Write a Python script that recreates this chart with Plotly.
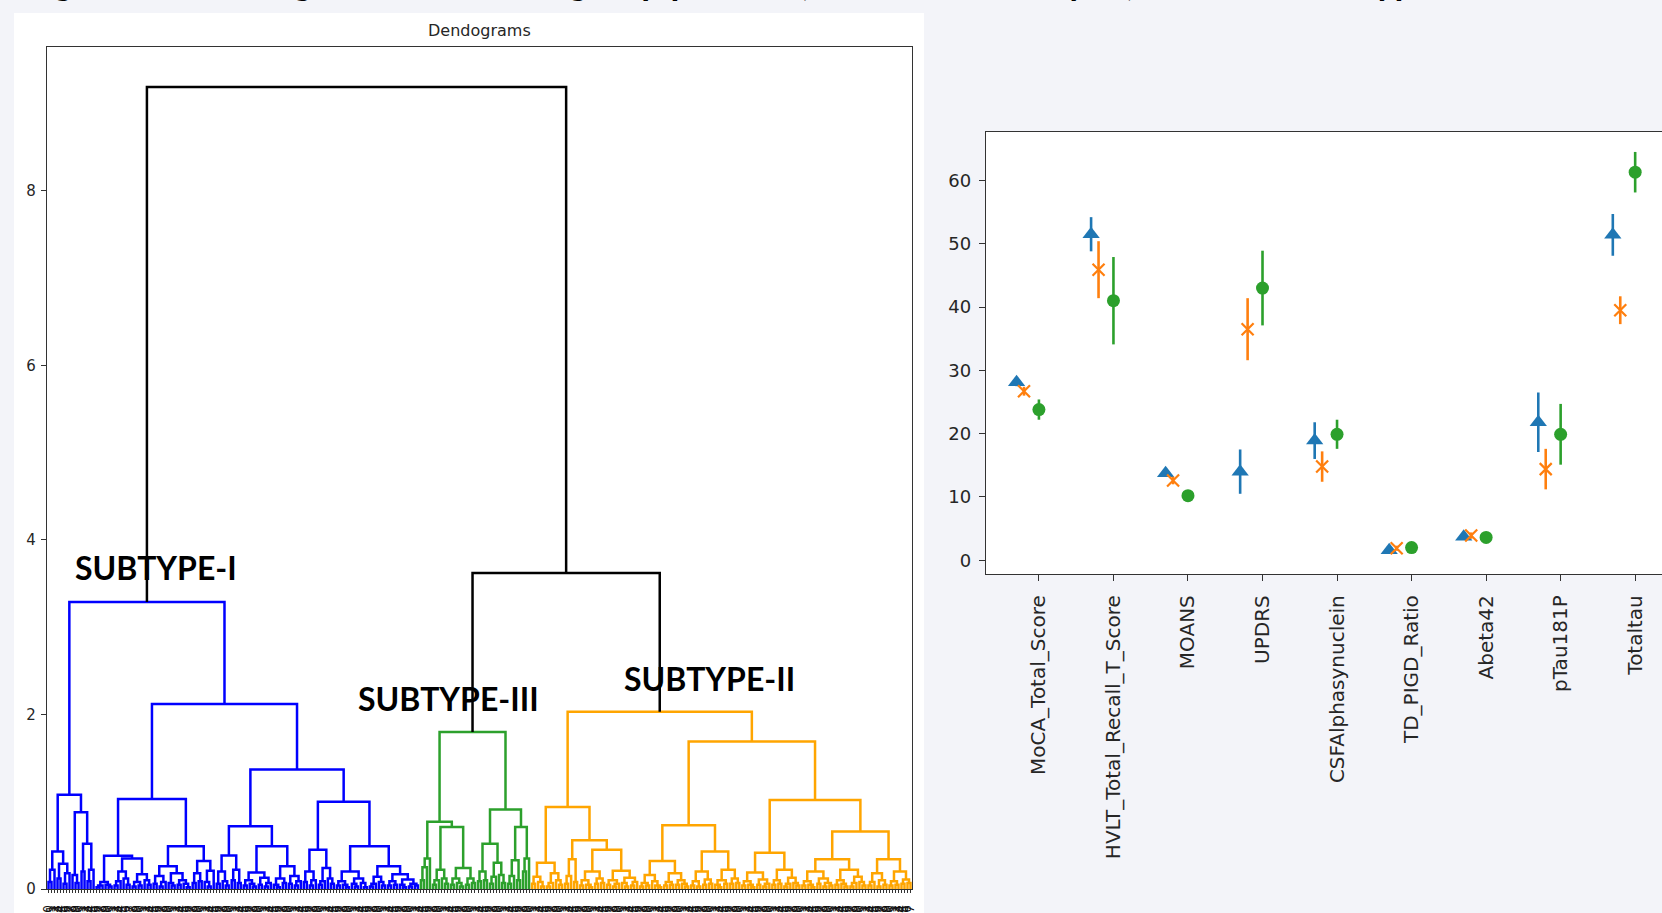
import plotly.graph_objects as go

# ------------------------------------------------------------------
# DATA
# ------------------------------------------------------------------
# Dendrogram (hierarchical clustering) written as nested merges:
# "(height left right)" is a merge, "." is a single patient (leaf).
SUBTYPE_I_TREE = """
(3.29
  (1.08
    (.43 (.22 (.08 . .) .) (.29 (.12 . .) (.18 (.06 . .) .)))
    (.88 (.16 . (.07 . .)) (.52 (.2 . .) (.22 (.09 . .) .))))
  (2.12
    (1.03
      (.38
        (.08 (.04 (.02 . .) .) (.05 . (.03 . .)))
        (.35 (.2 (.09 (.04 . .) .) (.12 . (.05 . .)))
             (.17 (.08 (.03 . .) (.04 . .)) (.1 . (.05 . .)))))
      (.49
        (.26 (.15 (.06 . .) (.08 (.03 . .) .))
             (.18 (.07 . (.04 . .)) (.1 (.05 . .) (.06 . (.02 . .)))))
        (.32 (.18 (.07 . .) (.09 . .)) (.21 (.08 . (.03 . .)) .))))
    (1.37
      (.72
        (.385 (.2 (.06 . .) (.09 . (.04 . .))) (.22 (.1 . .) (.07 . .)))
        (.49 (.19 (.1 (.04 . .) (.06 . (.03 . .))) (.13 (.05 . .) (.07 (.03 . .) .)))
             (.26 (.12 (.05 . (.02 . .)) (.07 . .)) (.15 (.06 . .) (.09 (.04 . .) .)))))
      (1.0
        (.45 (.2 (.08 . .) (.1 (.04 . .) .)) (.24 (.09 (.05 . .) .) (.12 . (.06 . .))))
        (.49
          (.2 (.09 (.04 . .) (.05 . (.02 . .))) (.12 (.06 . (.03 . .)) (.07 . (.02 . .))))
          (.26 (.14 (.06 (.03 . .) .) (.08 . (.04 . .)))
               (.17 (.09 (.04 . .) (.05 . .))
                    (.11 (.05 . (.02 . .)) (.06 (.03 . .) (.04 . .))))))))))
"""

SUBTYPE_III_TREE = """
(1.80
  (.77
    (.35 (.25 (.1 . .) .) .)
    (.71 (.22 (.1 (.05 . .) .) (.12 . (.06 . .)))
         (.24 (.12 (.05 . .) (.07 . (.03 . .))) (.12 (.05 . .) (.07 . .)))))
  (.91
    (.52 (.2 (.09 . .) (.1 . .)) (.3 (.14 (.06 . .) .) (.16 . (.07 . .))))
    (.71 (.33 (.15 (.06 . .) .) (.1 . .)) (.35 (.2 . .) .))))
"""

SUBTYPE_II_TREE = """
(2.03
  (.94
    (.30 (.14 (.06 . .) (.08 . (.03 . .))) (.18 (.07 (.03 . .) .) (.1 . (.05 . .))))
    (.56
      (.34 (.15 (.06 . .) .) (.08 . .))
      (.45 (.2 (.1 (.04 . .) (.05 . (.02 . .))) (.12 (.06 . .) (.07 . .)))
           (.21 (.1 (.05 . .) (.06 (.03 . .) .)) (.13 (.07 . (.03 . .)) (.08 (.04 . .) .))))))
  (1.69
    (.73
      (.32 (.16 (.07 (.03 . .) (.04 . .)) (.09 . (.04 . (.02 . .))))
           (.18 (.08 (.04 . .) (.05 . .)) (.1 (.05 . .) (.06 . (.03 . .)))))
      (.43 (.2 (.09 (.04 . .) (.03 . .)) (.11 (.05 . .) (.06 . .)))
           (.22 (.1 (.05 . (.02 . .)) (.06 . .)) (.12 (.06 . .) (.07 . .)))))
    (1.02
      (.415 (.19 (.09 (.04 . .) (.05 . (.02 . .))) (.11 (.05 . .) (.06 (.03 . .) .)))
            (.22 (.1 (.05 . .) (.06 . .)) (.13 (.06 (.03 . .) .) (.07 . (.04 . .)))))
      (.66
        (.34 (.2 (.09 (.04 . .) (.05 . (.02 . .))) (.12 (.06 . .) (.07 (.03 . .) (.04 . .))))
             (.22 (.1 (.05 . .) (.06 . (.03 . .))) (.14 (.07 (.03 . .) .) (.08 . (.04 . .)))))
        (.34 (.18 (.08 (.04 . .) .) (.1 (.03 . .) (.05 . .)))
             (.2 (.09 (.04 . .) (.05 . .)) (.11 (.06 . .) (.07 . .))))))))
"""

II_III_MERGE_HEIGHT = 3.62
ROOT_MERGE_HEIGHT = 9.19

SUBTYPE_LABELS = ["SUBTYPE-I", "SUBTYPE-III", "SUBTYPE-II"]

FEATURES = ["MoCA_Total_Score", "HVLT_Total_Recall_T_Score", "MOANS", "UPDRS",
            "CSFAlphasynuclein", "TD_PIGD_Ratio", "Abeta42", "pTau181P", "Totaltau"]

BLUE_MEAN = [28.1, 51.5, 13.75, 14.0, 18.9, 1.6, 3.7, 21.8, 51.4]
BLUE_ERR = [0.6, 2.7, 0.6, 3.5, 2.9, 0.6, 0.5, 4.7, 3.3]
ORANGE_MEAN = [26.7, 45.9, 12.6, 36.5, 14.8, 1.9, 3.9, 14.4, 39.5]
ORANGE_ERR = [0.7, 4.5, 0.6, 4.9, 2.4, 0.4, 0.5, 3.2, 2.2]
GREEN_MEAN = [23.8, 41.0, 10.2, 43.0, 19.9, 2.0, 3.6, 19.9, 61.3]
GREEN_ERR = [1.6, 6.9, 0.6, 5.9, 2.3, 0.5, 0.5, 4.8, 3.2]

HEADER = "Figure 2: Dendrogram and the subgroup profiles (hierarchical analysis) of the PD subtypes"

# ------------------------------------------------------------------
# helpers
# ------------------------------------------------------------------
W, H = 1662, 913


def parse_tree(text):
    toks = text.replace("(", " ( ").replace(")", " ) ").split()
    pos = [0]

    def node():
        t = toks[pos[0]]
        pos[0] += 1
        if t == ".":
            return None
        h = float(toks[pos[0]])
        pos[0] += 1
        a = node()
        b = node()
        pos[0] += 1  # ")"
        return (h, a, b)

    return node()


C_BLUE, C_GREEN, C_ORANGE, C_BLACK = "#0000ff", "#2ca02c", "#ffa500", "#000000"
segments = {c: ([], []) for c in (C_BLUE, C_GREEN, C_ORANGE, C_BLACK)}
leaf_counter = [0]


def place(node, color):
    if node is None:
        x = 5 + 10 * leaf_counter[0]
        leaf_counter[0] += 1
        return x, 0.0
    h, a, b = node
    xa, ha = place(a, color)
    xb, hb = place(b, color)
    xs, ys = segments[color]
    xs += [xa, xa, xb, xb, None]
    ys += [ha, h, h, hb, None]
    return (xa + xb) / 2, h


x1, h1 = place(parse_tree(SUBTYPE_I_TREE), C_BLUE)
x3, h3 = place(parse_tree(SUBTYPE_III_TREE), C_GREEN)
x2, h2 = place(parse_tree(SUBTYPE_II_TREE), C_ORANGE)
xs, ys = segments[C_BLACK]
xs += [x3, x3, x2, x2, None]
ys += [h3, II_III_MERGE_HEIGHT, II_III_MERGE_HEIGHT, h2, None]
xm = (x3 + x2) / 2
xs += [x1, x1, xm, xm, None]
ys += [h1, ROOT_MERGE_HEIGHT, ROOT_MERGE_HEIGHT, II_III_MERGE_HEIGHT, None]

N_LEAVES = leaf_counter[0]
LEAF_LABELS = [str(i) for i in range(N_LEAVES)]
X_MAX = 10 * N_LEAVES


def px_x(p):
    return p / W


def px_y(p):
    return 1 - p / H


fig = go.Figure()

for color, (lx, ly) in segments.items():
    fig.add_trace(go.Scatter(x=lx, y=ly, mode="lines", line=dict(color=color, width=2.5),
                             hoverinfo="skip", showlegend=False, xaxis="x", yaxis="y"))

series = [
    (BLUE_MEAN, BLUE_ERR, "#1f77b4", -0.3, dict(symbol="triangle-up", size=15)),
    (ORANGE_MEAN, ORANGE_ERR, "#ff7f0e", -0.2,
     dict(symbol="x-thin", size=12, line=dict(width=2.2, color="#ff7f0e"))),
    (GREEN_MEAN, GREEN_ERR, "#2ca02c", 0.0, dict(symbol="circle", size=13)),
]
for mean, err, col, off, mk in series:
    mk = dict(mk)
    mk["color"] = col
    fig.add_trace(go.Scatter(
        x=[i + off for i in range(len(FEATURES))], y=mean, mode="markers",
        marker=mk,
        error_y=dict(type="data", array=err, color=col, thickness=2.6, width=0),
        showlegend=False, xaxis="x2", yaxis="y2"))

axis_font = dict(family="DejaVu Sans", color="#262626")

fig.update_layout(
    width=W, height=H,
    margin=dict(l=0, r=0, t=0, b=0, autoexpand=False),
    paper_bgcolor="#f3f4f9",
    plot_bgcolor="#ffffff",
    showlegend=False,
    xaxis=dict(domain=[px_x(47), px_x(912)], range=[0, X_MAX], showgrid=False, zeroline=False,
               showline=True, mirror=True, linecolor="#333333", linewidth=1.4,
               tickmode="array", tickvals=[5 + 10 * i for i in range(N_LEAVES)],
               ticktext=LEAF_LABELS, tickangle=-90, ticks="outside", ticklen=3,
               tickcolor="#333333", tickwidth=0.6, ticklabelstandoff=7,
               tickfont=dict(family="DejaVu Sans", size=12, color="#111111"),
               anchor="y", automargin=False),
    yaxis=dict(domain=[px_y(889), px_y(47)], range=[0, 1.05 * ROOT_MERGE_HEIGHT],
               showgrid=False, zeroline=False, showline=True, mirror=True,
               linecolor="#333333", linewidth=1.4, tickvals=[0, 2, 4, 6, 8],
               ticks="outside", ticklen=5, tickcolor="#333333", ticklabelstandoff=2,
               tickfont=dict(axis_font, size=15), anchor="x", automargin=False),
    xaxis2=dict(domain=[px_x(986), 1.0], range=[-0.71, 8.36], showgrid=False, zeroline=False,
                showline=True, mirror=True, linecolor="#333333", linewidth=1.4,
                tickmode="array", tickvals=list(range(len(FEATURES))), ticktext=FEATURES,
                tickangle=-90, ticks="outside", ticklen=6, tickcolor="#333333",
                ticklabelstandoff=6,
                tickfont=dict(axis_font, size=20), anchor="y2", automargin=False),
    yaxis2=dict(domain=[px_y(574), px_y(132)], range=[-2.17, 67.65], showgrid=False,
                zeroline=False, showline=True, mirror=False, linecolor="#333333",
                linewidth=1.4, tickvals=[0, 10, 20, 30, 40, 50, 60], ticks="outside",
                ticklen=6, tickcolor="#333333", ticklabelstandoff=4,
                tickfont=dict(axis_font, size=18), anchor="x2", automargin=False),
    shapes=[dict(type="rect", xref="paper", yref="paper", x0=px_x(14), x1=px_x(924),
                 y0=0, y1=px_y(13), fillcolor="#ffffff", line=dict(width=0), layer="below")],
)

annotations = [
    dict(text="Dendograms", xref="paper", yref="paper", x=px_x(479.5), y=px_y(30),
         xanchor="center", yanchor="middle", showarrow=False,
         font=dict(family="DejaVu Sans", size=16, color="#262626")),
    dict(text=HEADER, xref="paper", yref="paper", x=px_x(22), y=px_y(4.6),
         xanchor="left", yanchor="bottom", showarrow=False,
         font=dict(family="Lato", size=36, color="#000000", weight="bold")),
]
label_pos = [(85, 3.69), (1030, 2.18), (1915, 2.41)]
for lab, (lx, ly) in zip(SUBTYPE_LABELS, label_pos):
    annotations.append(dict(text=lab, xref="x", yref="y", x=lx, y=ly, xanchor="left",
                            yanchor="middle", showarrow=False,
                            font=dict(family="Lato", size=32, color="#000000", weight="bold")))
fig.update_layout(annotations=annotations)

fig.write_html("out.html", config={"displayModeBar": False},
               post_script="document.body.style.margin='0';document.body.style.overflow='hidden';")
